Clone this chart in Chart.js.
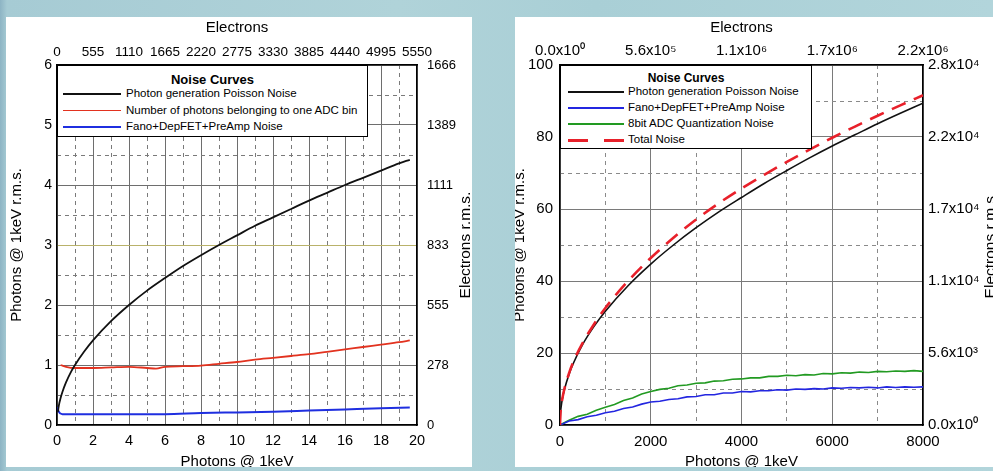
<!DOCTYPE html>
<html><head><meta charset="utf-8">
<script src="https://cdn.jsdelivr.net/npm/chart.js@4"></script>
<style>
html,body{margin:0;padding:0;}
body{width:993px;height:471px;overflow:hidden;position:relative;
  background:linear-gradient(90deg,#8db4c4 0,#a6cbd4 7px,#b0d3d9 40%,#a9cfd6 60%,#b2d5db 100%);
  font-family:"Liberation Sans",Arial,sans-serif;}
.panel{position:absolute;background:#fff;overflow:hidden;}
#pl{left:6px;top:17px;width:466px;height:450px;}
#pr{left:515px;top:17px;width:478px;height:450px;}
canvas{position:absolute;left:0;top:0;}
.leg{position:absolute;background:#fff;border:1px solid #000;box-sizing:border-box;}
.leg .t{position:absolute;left:0;right:0;text-align:center;font-weight:bold;color:#000;}
.leg .e{position:absolute;white-space:nowrap;color:#000;}
.leg .s{position:absolute;}
</style></head><body>
<div class="panel" id="pl"><canvas id="cl" width="466" height="450"></canvas></div>
<div class="panel" id="pr"><canvas id="cr" width="478" height="450"></canvas></div>
<script>
// ---------- LEFT CHART DATA ----------
const leftXTicks = [0,2,4,6,8,10,12,14,16,18,20];
const leftXMinor = [1,3,5,7,9,11,13,15,17,19];
const leftX2Labels = ['0','555','1110','1665','2220','2775','3330','3885','4440','4995','5550'];
const leftYTicks = [0,1,2,3,4,5,6];
const leftYMinor = [0.5,1.5,2.5,3.5,4.5,5.5];
const leftY2Labels = ['0','278','555','833','1111','1389','1666'];

const leftPoissonX = [0.05,0.1,0.2,0.3,0.5,0.75,1,1.5,2,3,4,5,6,7,8,9,10,11,12,13,14,15,16,17,18,19,19.6];
const leftPoissonY = [0.22,0.32,0.45,0.55,0.71,0.87,1.0,1.22,1.41,1.73,2.0,2.24,2.45,2.65,2.83,3.0,3.16,3.32,3.46,3.6,3.74,3.87,4.0,4.12,4.24,4.36,4.42];
const leftAdcBinX = [0.2,0.5,1,2,3,4,5,5.5,6,7,8,9,10,11,12,13,14,15,16,17,18,19,19.6];
const leftAdcBinY = [1.0,0.97,0.95,0.95,0.96,0.97,0.95,0.94,0.97,0.98,0.99,1.02,1.05,1.09,1.12,1.15,1.18,1.22,1.26,1.3,1.34,1.38,1.41];
const leftFanoX = [0.02,0.1,0.3,1,2,4,6,8,10,12,14,16,18,19.6];
const leftFanoY = [0.3,0.22,0.18,0.18,0.18,0.18,0.18,0.2,0.21,0.22,0.24,0.26,0.28,0.29];

// ---------- RIGHT CHART DATA ----------
const rightXTicks = [0,2000,4000,6000,8000];
const rightXMinor = [1000,3000,5000,7000];
const rightX2Labels = ['0.0x10\u2070','5.6x10\u2075','1.1x10\u2076','1.7x10\u2076','2.2x10\u2076'];
const rightYTicks = [0,20,40,60,80,100];
const rightYMinor = [10,30,50,70,90];
const rightY2Labels = ['0.0x10\u2070','5.6x10\u00b3','1.1x10\u2074','1.7x10\u2074','2.2x10\u2074','2.8x10\u2074'];

const rightPoissonX = [0,10,25,50,100,200,300,500,750,1000,1500,2000,2500,3000,3500,4000,4500,5000,5500,6000,6500,7000,7500,8000];
const rightPoissonY = [0,3.2,5,7.1,10,14.1,17.3,22.4,27.4,31.6,38.7,44.7,50,54.8,59.2,63.2,67.1,70.7,74.2,77.5,80.6,83.7,86.6,89.4];
const rightTotalX = [0,10,25,50,100,200,300,500,750,1000,1500,2000,2500,3000,3500,4000,4500,5000,5500,6000,6500,7000,7500,8000];
const rightTotalY = [0,3.3,5.1,7.2,10.2,14.4,17.7,22.8,28.0,32.5,40.0,46.4,52.0,57.1,61.6,65.7,69.5,73.1,76.5,79.8,82.9,85.9,88.8,91.6];
const rightNoiseX = [0,200,400,600,800,1000,1200,1400,1600,1800,2000,2200,2400,2600,2800,3000,3200,3400,3600,3800,4000,4200,4400,4600,4800,5000,5200,5400,5600,5800,6000,6200,6400,6600,6800,7000,7200,7400,7600,7800,8000];
const rightAdcY = [0,1.3,2.4,3.0,4.1,4.9,5.7,6.8,7.5,8.6,9.3,9.9,10.2,10.9,11.1,11.6,11.7,12.2,12.3,12.7,12.8,13.1,13.1,13.5,13.5,13.8,13.7,14.0,13.9,14.3,14.2,14.5,14.4,14.7,14.6,14.9,14.8,15.0,14.9,15.1,14.9];
const rightFanoY = [0,1.1,1.5,2.3,2.7,3.4,3.8,4.6,5.0,5.8,6.4,6.6,7.1,7.3,7.8,7.9,8.4,8.4,8.9,8.9,9.3,9.2,9.5,9.5,9.8,9.7,10.0,9.9,10.1,10.0,10.3,10.2,10.4,10.3,10.5,10.3,10.6,10.4,10.6,10.5,10.6];

// ---------- helpers ----------
Chart.defaults.font.family = '"Liberation Sans", Arial, sans-serif';
Chart.defaults.color = '#000';
const pts = (xs, ys) => xs.map((x, i) => ({x: x, y: ys[i]}));
const fixedSize = sz => s => { if (s.isHorizontal()) s.height = sz; else s.width = sz; };
const setTicks = arr => s => { s.ticks = arr.map(v => ({value: v})); };

function rightTitlePlugin(text, x, size) {
  return {
    id: 'rtitle',
    afterDraw(chart) {
      const a = chart.chartArea, ctx = chart.ctx;
      ctx.save();
      ctx.translate(x, (a.top + a.bottom) / 2);
      ctx.rotate(-Math.PI / 2);
      ctx.font = size + 'px "Liberation Sans", Arial, sans-serif';
      ctx.fillStyle = '#000';
      ctx.textAlign = 'center';
      ctx.textBaseline = 'middle';
      ctx.fillText(text, 0, 0);
      ctx.restore();
    }
  };
}

function makeScales(o) {
  return {
    x: {type: 'linear', position: 'bottom', min: o.xmin, max: o.xmax,
      afterBuildTicks: setTicks(o.xTicks), afterFit: fixedSize(o.bottom),
      ticks: {autoSkip: false, maxRotation: 0, padding: o.xPad, font: {size: o.xFont}, callback: v => String(v)},
      grid: {color: o.gridColor, lineWidth: 1, drawTicks: false},
      border: {color: '#000', width: 1.5},
      title: {display: true, text: 'Photons @ 1keV', font: {size: 15, lineHeight: 0.7}, padding: {top: 0, bottom: 0}}},
    xm: {type: 'linear', position: 'bottom', min: o.xmin, max: o.xmax,
      afterBuildTicks: setTicks(o.xMinor), afterFit: fixedSize(0),
      ticks: {display: false}, grid: {color: o.dashColor, lineWidth: 1, drawTicks: false},
      border: {display: false, dash: [4, 4]}},
    x2: {type: 'linear', position: 'top', min: o.xmin, max: o.xmax,
      afterBuildTicks: setTicks(o.xTicks), afterFit: fixedSize(o.top),
      ticks: {autoSkip: false, maxRotation: 0, padding: o.x2Pad, font: {size: o.x2Font}, callback: (v, i) => o.x2Labels[i]},
      grid: {drawOnChartArea: false, drawTicks: false},
      border: {color: '#000', width: 1.5},
      title: {display: true, text: 'Electrons', font: {size: 15, lineHeight: 1.2}, padding: {top: 2, bottom: 0}}},
    y: {type: 'linear', position: 'left', min: o.ymin, max: o.ymax,
      afterBuildTicks: setTicks(o.yTicks), afterFit: fixedSize(o.left),
      ticks: {autoSkip: false, padding: o.yPad, font: {size: o.yFont}, callback: v => String(v)},
      grid: {color: o.yGridColor, lineWidth: 1, drawTicks: false},
      border: {color: '#000', width: 1.5},
      title: {display: true, text: 'Photons @ 1keV r.m.s.', font: {size: 15, lineHeight: o.yTitleLH}, padding: {top: o.yTitlePad, bottom: 0}}},
    ym: {type: 'linear', position: 'left', min: o.ymin, max: o.ymax,
      afterBuildTicks: setTicks(o.yMinor), afterFit: fixedSize(0),
      ticks: {display: false}, grid: {color: o.dashColor, lineWidth: 1, drawTicks: false},
      border: {display: false, dash: [4, 4]}},
    y2: {type: 'linear', position: 'right', min: o.ymin, max: o.ymax,
      afterBuildTicks: setTicks(o.yTicks), afterFit: fixedSize(o.right),
      ticks: {autoSkip: false, padding: o.y2Pad, font: {size: o.y2Font}, callback: (v, i) => o.y2Labels[i]},
      grid: {drawOnChartArea: false, drawTicks: false},
      border: {color: '#000', width: 1.5}}
  };
}

function buildLegend(panelId, chart, cfg) {
  const a = chart.chartArea;
  const box = document.createElement('div');
  box.className = 'leg';
  box.style.left = a.left + 'px'; box.style.top = a.top + 'px';
  box.style.width = cfg.w + 'px'; box.style.height = cfg.h + 'px';
  const t = document.createElement('div');
  t.className = 't'; t.textContent = 'Noise Curves';
  t.style.fontSize = cfg.titleSize + 'px'; t.style.lineHeight = cfg.titleSize + 'px';
  t.style.top = (cfg.titleY - cfg.titleSize / 2 - 1) + 'px';
  box.appendChild(t);
  cfg.items.forEach((it, i) => {
    const cy = cfg.y0 + i * cfg.dy - 1;
    const s = document.createElement('div');
    s.className = 's';
    s.style.left = (cfg.sx - 1) + 'px'; s.style.width = cfg.sw + 'px';
    s.style.top = (cy - it.width / 2) + 'px'; s.style.height = it.width + 'px';
    s.style.background = it.dash ? 'repeating-linear-gradient(90deg,' + it.color + ' 0 20px, transparent 20px 36px)' : it.color;
    box.appendChild(s);
    const e = document.createElement('div');
    e.className = 'e'; e.textContent = it.label;
    e.style.left = (cfg.tx - 1) + 'px'; e.style.fontSize = cfg.size + 'px';
    e.style.lineHeight = cfg.size + 'px'; e.style.top = (cy - cfg.size / 2) + 'px';
    box.appendChild(e);
  });
  document.getElementById(panelId).appendChild(box);
}

// ---------- LEFT CHART ----------
const leftSets = [
  {label: 'Photon generation Poisson Noise', data: pts(leftPoissonX, leftPoissonY), borderColor: '#111', borderWidth: 1.8},
  {label: 'Number of photons belonging to one ADC bin', data: pts(leftAdcBinX, leftAdcBinY), borderColor: '#e2321f', borderWidth: 1.8},
  {label: 'Fano+DepFET+PreAmp Noise', data: pts(leftFanoX, leftFanoY), borderColor: '#1f2fe0', borderWidth: 2}
];
const chartL = new Chart(document.getElementById('cl'), {
  type: 'line',
  data: {datasets: leftSets.map(d => Object.assign({pointRadius: 0, fill: false, cubicInterpolationMode: 'monotone'}, d))},
  options: {
    responsive: false, animation: false, events: [],
    layout: {padding: 0},
    plugins: {legend: {display: false}, tooltip: {enabled: false}},
    scales: makeScales({xmin: 0, xmax: 20, ymin: 0, ymax: 6,
      xTicks: leftXTicks, xMinor: leftXMinor, x2Labels: leftX2Labels,
      yTicks: leftYTicks, yMinor: leftYMinor, y2Labels: leftY2Labels,
      bottom: 42, top: 48, left: 51, right: 55,
      xPad: 7, xFont: 14.5, x2Pad: 5, x2Font: 13.5, yPad: 5, yFont: 14, y2Pad: 10, y2Font: 13,
      yTitleLH: 1.2, yTitlePad: 2,
      gridColor: '#6e6e6e', dashColor: '#7a7a7a',
      yGridColor: c => (c.tick && c.tick.value === 3) ? '#b9b26a' : '#6e6e6e'})
  },
  plugins: [rightTitlePlugin('Electrons r.m.s.', 460, 15.5)]
});
buildLegend('pl', chartL, {w: 311, h: 72, titleSize: 13, titleY: 14, y0: 29, dy: 16.5, sx: 6, sw: 58, tx: 69, size: 11.5,
  items: leftSets.map(d => ({label: d.label, color: d.borderColor, width: d.borderWidth}))});

// ---------- RIGHT CHART ----------
const rightSets = [
  {label: 'Photon generation Poisson Noise', data: pts(rightPoissonX, rightPoissonY), borderColor: '#111', borderWidth: 1.6, cubicInterpolationMode: 'monotone'},
  {label: 'Fano+DepFET+PreAmp Noise', data: pts(rightNoiseX, rightFanoY), borderColor: '#2326e0', borderWidth: 1.6},
  {label: '8bit ADC Quantization Noise', data: pts(rightNoiseX, rightAdcY), borderColor: '#229a22', borderWidth: 1.6},
  {label: 'Total Noise', data: pts(rightTotalX, rightTotalY), borderColor: '#e8202a', borderWidth: 2.6, borderDash: [15, 9], order: -1, cubicInterpolationMode: 'monotone', dashLegend: true}
];
const chartR = new Chart(document.getElementById('cr'), {
  type: 'line',
  data: {datasets: rightSets.map(d => Object.assign({pointRadius: 0, fill: false}, d))},
  options: {
    responsive: false, animation: false, events: [],
    layout: {padding: 0},
    plugins: {legend: {display: false}, tooltip: {enabled: false}},
    scales: makeScales({xmin: 0, xmax: 8000, ymin: 0, ymax: 100,
      xTicks: rightXTicks, xMinor: rightXMinor, x2Labels: rightX2Labels,
      yTicks: rightYTicks, yMinor: rightYMinor, y2Labels: rightY2Labels,
      bottom: 42, top: 48, left: 45, right: 70,
      xPad: 8, xFont: 15, x2Pad: 5, x2Font: 15, yPad: 7, yFont: 15, y2Pad: 5, y2Font: 15,
      yTitleLH: 0.6, yTitlePad: 0,
      gridColor: '#7a7a7a', dashColor: '#8a8a8a', yGridColor: '#7a7a7a'})
  },
  plugins: [rightTitlePlugin('Electrons r.m.s.', 476, 15.5)]
});
buildLegend('pr', chartR, {w: 252, h: 84, titleSize: 12, titleY: 13, y0: 27, dy: 16, sx: 8, sw: 56, tx: 68, size: 11.5,
  items: rightSets.map(d => ({label: d.label, color: d.borderColor, width: d.dashLegend ? 3 : d.borderWidth, dash: !!d.dashLegend}))});
</script>
</body></html>
